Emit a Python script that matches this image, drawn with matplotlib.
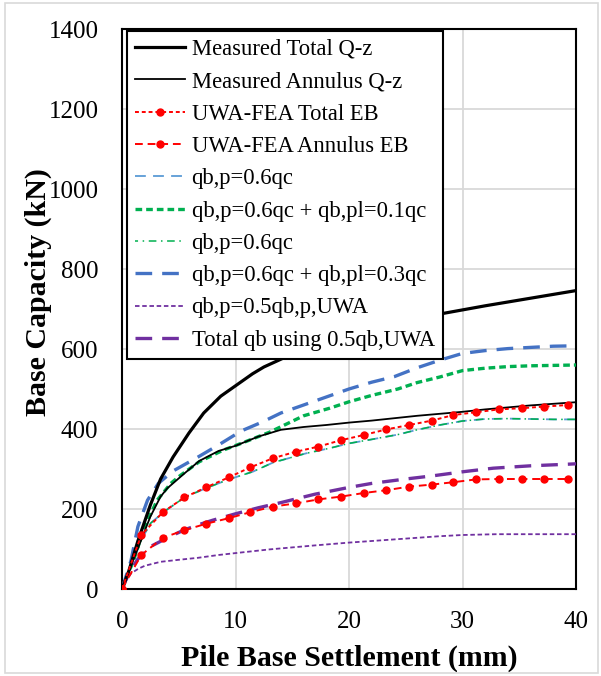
import matplotlib
matplotlib.use("Agg")
import matplotlib.pyplot as plt
from matplotlib.patches import Rectangle

plt.rcParams['font.family'] = ['Liberation Serif', 'DejaVu Serif']

# Measured load-settlement curves (settlement mm, capacity kN)
meas_total_x = [0, 0.6, 1.4, 2.5, 3.4, 4.5, 5.9, 7.2, 8.7, 10.2, 11.5, 12.5, 14.5, 17, 20, 23, 26, 28.3, 32, 36, 40]
meas_total_y = [0, 45, 120, 210, 275, 330, 390, 440, 482, 512, 538, 555, 581, 608, 635, 657, 675, 689, 708, 727, 746]

meas_ann_x = [0, 1.1, 2.5, 3.4, 4.0, 5.5, 6.8, 8.5, 10, 12, 14, 16, 18, 20, 22, 24, 26, 28, 30, 32, 34, 36, 38, 40]
meas_ann_y = [0, 80, 181, 231, 252, 289, 320, 345, 358, 381, 398, 405, 410, 416, 421, 427, 433, 438, 443, 449, 454, 459, 463, 467]

# UWA-FEA predictions
fea_x = [0, 1.7, 3.6, 5.5, 7.4, 9.4, 11.3, 13.3, 15.3, 17.3, 19.3, 21.3, 23.3, 25.3, 27.3, 29.2, 31.2, 33.2, 35.2, 37.2, 39.3]
fea_total_y = [0, 135, 192, 229, 254, 279, 304, 327, 343, 356, 372, 385, 399, 410, 421, 435, 442, 449, 452, 456, 460]
fea_ann_y = [0, 85, 128, 147, 163, 177, 192, 206, 214, 224, 231, 240, 247, 256, 261, 267, 274, 275, 275, 275, 275]

# Design-method curves
qbp_x = [0, 0.8, 1.7, 2.5, 3.7, 5.5, 7.4, 9.4, 11.5, 13.3, 16.2, 18.3, 20, 22, 24.3, 26, 28, 30, 32, 34, 36, 38, 40]
qbp_y = [0, 56, 122, 164, 193, 229, 252, 274, 293, 316, 339, 352, 364, 374, 386, 398, 410, 420, 425, 426, 425, 424, 424]

qbp_pl01_x = [0, 1, 2, 3.1, 4.3, 5.1, 6.8, 8.9, 10.5, 13, 16, 18.3, 20, 22, 24.3, 26, 28, 30, 32, 34, 36, 38, 40]
qbp_pl01_y = [0, 70, 156, 222, 264, 283, 318, 347, 364, 392, 433, 452, 468, 484, 500, 516, 530, 546, 552, 556, 558, 559, 560]

qbp_pl03_x = [0, 0.8, 1.4, 2.25, 3.2, 4.5, 6.7, 8.5, 10.5, 12.4, 14, 16, 18, 20, 22, 24, 26, 28, 30, 32, 34, 36, 38, 40]
qbp_pl03_y = [0, 72, 156, 222, 264, 295, 330, 360, 395, 418, 440, 460, 480, 500, 517, 531, 553, 572, 589, 596, 601, 604, 607, 608]

half_uwa_x = [0, 0.4, 0.8, 1.4, 2, 3.4, 5, 6.7, 8.5, 10.4, 13, 15, 17, 20, 23, 26, 28, 30, 33, 36, 40]
half_uwa_y = [0, 22, 39, 50, 58, 68, 73, 78, 85, 91, 99, 104, 109, 116, 122, 128, 132, 135, 137, 137, 137]

total_half_x = [0, 0.6, 1.4, 2.5, 4, 5.5, 7, 8, 10, 12, 14, 17, 20, 22, 25, 27.4, 30, 32.7, 36, 39.3, 40]
total_half_y = [0, 40, 75, 106, 128, 148, 163, 172, 188, 203, 216, 237, 254, 264, 275, 283, 293, 302, 308, 312, 313]

labels = ["Measured Total Q-z", "Measured Annulus Q-z", "UWA-FEA Total EB", "UWA-FEA Annulus EB",
          "qb,p=0.6qc", "qb,p=0.6qc + qb,pl=0.1qc", "qb,p=0.6qc", "qb,p=0.6qc + qb,pl=0.3qc",
          "qb,p=0.5qb,p,UWA", "Total qb using 0.5qb,UWA"]

x_ticks = [0, 10, 20, 30, 40]
y_ticks = [0, 200, 400, 600, 800, 1000, 1200, 1400]

W, H = 601, 676
fig = plt.figure(figsize=(W / 100, H / 100), dpi=100)
ax = fig.add_axes([122 / W, (H - 589) / H, (576 - 122) / W, (589 - 29) / H])

red = "#ff0000"
c_lblue = "#5b9bd5"
c_green = "#00b050"
c_blue = "#4472c4"
c_purple = "#7030a0"

ax.plot(meas_total_x, meas_total_y, color="black", lw=2.3, label=labels[0], zorder=5)
ax.plot(meas_ann_x, meas_ann_y, color="black", lw=1.3, label=labels[1], zorder=5)
ax.plot(fea_x, fea_total_y, color=red, lw=1.4, ls=(0, (2, 1.5)), marker="o", ms=5,
        label=labels[2], zorder=6)
ax.plot(fea_x, fea_ann_y, color=red, lw=1.4, ls=(0, (4, 2.5)), marker="o", ms=5,
        label=labels[3], zorder=6)
ax.plot(qbp_x, qbp_y, color=c_lblue, lw=1.3, ls=(0, (6, 4)), label=labels[4], zorder=4)
ax.plot(qbp_pl01_x, qbp_pl01_y, color=c_green, lw=2.4, ls=(0, (2, 1.2)), label=labels[5], zorder=4)
ax.plot(qbp_x, qbp_y, color=c_green, lw=1.1, ls=(3, (5, 3, 1, 3)), label=labels[6], zorder=4)
ax.plot(qbp_pl03_x, qbp_pl03_y, color=c_blue, lw=2.4, ls=(0, (5, 3)), label=labels[7], zorder=4)
ax.plot(half_uwa_x, half_uwa_y, color=c_purple, lw=1.3, ls=(0, (2.5, 1.5)), label=labels[8], zorder=4)
ax.plot(total_half_x, total_half_y, color=c_purple, lw=2.4, ls=(0, (5, 3)), label=labels[9], zorder=4)

ax.set_xlim(0, 40)
ax.set_ylim(0, 1400)
ax.set_xticks(x_ticks)
ax.set_yticks(y_ticks)
ax.grid(True, color="#d9d9d9", lw=1.3)
ax.set_axisbelow(True)
ax.tick_params(length=0, labelsize=18)
ax.tick_params(axis="x", pad=16)
ax.tick_params(axis="y", pad=17)
for s in ax.spines.values():
    s.set_color("black")
    s.set_linewidth(1.5)

ax.set_xlabel("Pile Base Settlement (mm)", fontsize=21.5, fontweight="bold", labelpad=8)
ax.set_ylabel("Base Capacity (kN)", fontsize=21.5, fontweight="bold")
ax.yaxis.set_label_coords((52 - 122) / (576 - 122), 0.53)

leg = ax.legend(loc="upper left", bbox_to_anchor=(127 / W, (H - 31) / H),
                bbox_transform=fig.transFigure, fontsize=16.3, frameon=True, fancybox=False,
                edgecolor="black", framealpha=1, borderaxespad=0, handlelength=2.2,
                handletextpad=0.3, labelspacing=0.5, borderpad=0.35, numpoints=1)
leg.get_frame().set_linewidth(1.5)
leg.set_zorder(10)

fig.patches.append(Rectangle((5 / W, 3 / H), 593 / W, 670 / H, transform=fig.transFigure,
                             fill=False, edgecolor="#d9d9d9", lw=1.2))

fig.savefig("out.png", dpi=100)
